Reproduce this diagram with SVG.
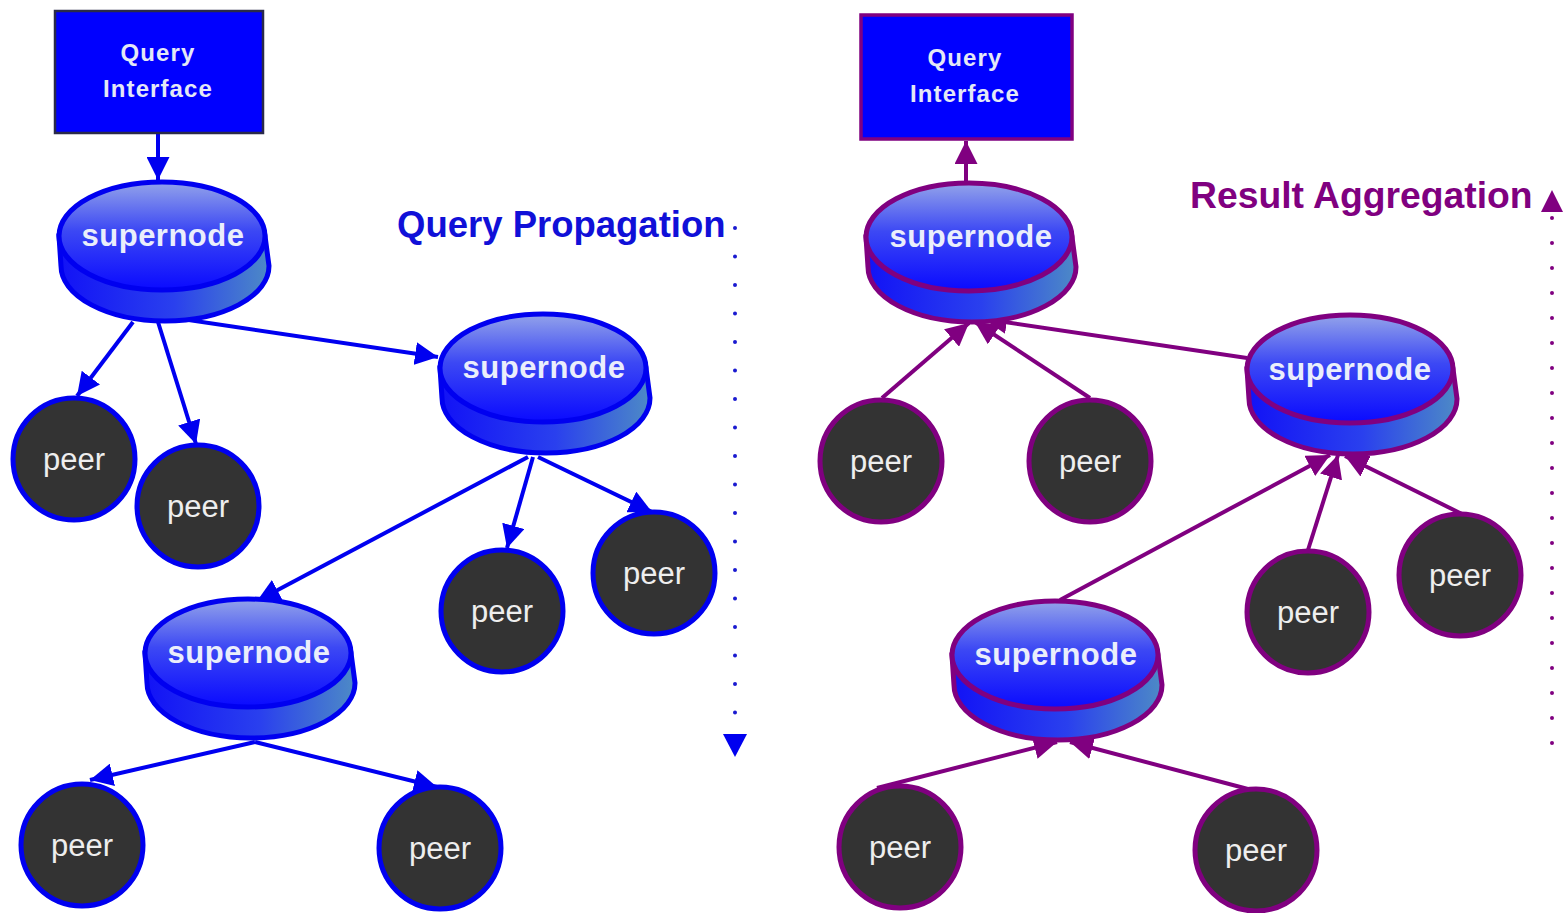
<svg xmlns="http://www.w3.org/2000/svg" width="1564" height="913" viewBox="0 0 1564 913">
  <style>
    .qi-text { font-family: "Liberation Sans", Arial, sans-serif; font-weight: bold; font-size: 24px; letter-spacing: 1.1px; fill: #e4e8f6; text-anchor: middle; }
    .sn-text { font-family: "Liberation Sans", Arial, sans-serif; font-weight: bold; font-size: 31px; letter-spacing: 0.5px; fill: #eaeefb; text-anchor: middle; }
    .peer-text { font-family: "Liberation Sans", Arial, sans-serif; font-size: 31px; fill: #eeeeee; text-anchor: middle; }
    .title { font-family: "Liberation Sans", Arial, sans-serif; font-weight: bold; font-size: 36.5px; }
    .sn-top { fill: url(#topFace); }
    .sn-side { fill: url(#sideFace); }
    .blue .sn-top, .blue .sn-side, .blue circle { stroke: #0000f0; stroke-width: 5; }
    .purple .sn-top, .purple .sn-side, .purple circle { stroke: #800080; stroke-width: 5; }
    circle.peer { fill: #333333; }
    .edge-b { stroke: #0000f0; stroke-width: 4; fill: none; marker-end: url(#arrowB); }
    .edge-p { stroke: #800080; stroke-width: 4; fill: none; marker-end: url(#arrowP); }
  </style>
  <defs>
    <linearGradient id="topFace" x1="0" y1="0" x2="0" y2="1">
      <stop offset="0" stop-color="#93a3ea"/>
      <stop offset="0.45" stop-color="#3c48f4"/>
      <stop offset="1" stop-color="#0a0aff"/>
    </linearGradient>
    <linearGradient id="sideFace" x1="0" y1="0" x2="1" y2="0">
      <stop offset="0" stop-color="#1212f6"/>
      <stop offset="0.55" stop-color="#2a40ee"/>
      <stop offset="1" stop-color="#4d8ac6"/>
    </linearGradient>
    <marker id="arrowB" viewBox="0 0 10 10" refX="10" refY="5" markerWidth="23" markerHeight="23" markerUnits="userSpaceOnUse" orient="auto">
      <path d="M0,0 L10,5 L0,10 Z" fill="#0000f0"/>
    </marker>
    <marker id="arrowP" viewBox="0 0 10 10" refX="10" refY="5" markerWidth="23" markerHeight="23" markerUnits="userSpaceOnUse" orient="auto">
      <path d="M0,0 L10,5 L0,10 Z" fill="#800080"/>
    </marker>
  </defs>

  <rect width="1564" height="913" fill="#ffffff"/>

  <!-- connectors -->
  <g id="connectors">
    <!-- query propagation (left) -->
    <line class="edge-b" x1="158" y1="133" x2="158" y2="180"/>
    <line class="edge-b" x1="133" y1="322" x2="77" y2="396"/>
    <line class="edge-b" x1="158" y1="322" x2="196" y2="444"/>
    <line class="edge-b" x1="175" y1="318" x2="438" y2="357"/>
    <line class="edge-b" x1="528" y1="457" x2="257" y2="601"/>
    <line class="edge-b" x1="533" y1="457" x2="507" y2="548"/>
    <line class="edge-b" x1="538" y1="457" x2="652" y2="512"/>
    <line class="edge-b" x1="255" y1="742" x2="90" y2="780"/>
    <line class="edge-b" x1="255" y1="742" x2="437" y2="787"/>
    <!-- result aggregation (right) -->
    <line class="edge-p" x1="966" y1="181" x2="966" y2="141"/>
    <line class="edge-p" x1="882" y1="398" x2="969" y2="323"/>
    <line class="edge-p" x1="1090" y1="398" x2="975" y2="322"/>
    <line class="edge-p" x1="1247" y1="358" x2="984" y2="319"/>
    <line class="edge-p" x1="1060" y1="600" x2="1330" y2="455"/>
    <line class="edge-p" x1="1308" y1="550" x2="1338" y2="455"/>
    <line class="edge-p" x1="1462" y1="514" x2="1345" y2="456"/>
    <line class="edge-p" x1="877" y1="788" x2="1057" y2="742"/>
    <line class="edge-p" x1="1248" y1="789" x2="1070" y2="742"/>
  </g>

  <!-- phase labels with dotted direction indicators -->
  <g id="label-propagation">
    <text class="title" x="397" y="237" fill="#1010d8">Query Propagation</text>
    <line x1="735" y1="228" x2="735" y2="715" stroke="#1a1ad0" stroke-width="4" stroke-linecap="round" stroke-dasharray="0 28.5"/>
    <path d="M723,734 L747,734 L735,757 Z" fill="#0000f0"/>
  </g>
  <g id="label-aggregation">
    <text class="title" x="1190" y="208" fill="#800080" style="font-size:37.3px">Result Aggregation</text>
    <path d="M1552,190 L1563,212 L1541,212 Z" fill="#800080"/>
    <line x1="1552" y1="218" x2="1552" y2="762" stroke="#800080" stroke-width="4" stroke-linecap="round" stroke-dasharray="0 25"/>
  </g>

  <!-- left tree -->
  <g id="qi-left" class="blue">
    <rect x="55" y="11" width="208" height="122" fill="#0000ff" stroke="#2a2a4a" stroke-width="2.5"/>
    <text class="qi-text" x="158" y="61">Query</text>
    <text class="qi-text" x="158" y="97">Interface</text>
  </g>

  <g id="sn-left-1" class="blue" transform="translate(57,180)">
    <path class="sn-side" d="M2,56 L4,86 A104,55 0 0 0 212,86 L208,56 Z"/>
    <ellipse class="sn-top" cx="105" cy="56" rx="103" ry="54"/>
    <text class="sn-text" x="106" y="66">supernode</text>
  </g>
  <g id="sn-left-2" class="blue" transform="translate(438,312)">
    <path class="sn-side" d="M2,56 L4,86 A104,55 0 0 0 212,86 L208,56 Z"/>
    <ellipse class="sn-top" cx="105" cy="56" rx="103" ry="54"/>
    <text class="sn-text" x="106" y="66">supernode</text>
  </g>
  <g id="sn-left-3" class="blue" transform="translate(143,597)">
    <path class="sn-side" d="M2,56 L4,86 A104,55 0 0 0 212,86 L208,56 Z"/>
    <ellipse class="sn-top" cx="105" cy="56" rx="103" ry="54"/>
    <text class="sn-text" x="106" y="66">supernode</text>
  </g>

  <g id="peer-left-1" class="blue"><circle class="peer" cx="74" cy="459" r="61"/><text class="peer-text" x="74" y="470">peer</text></g>
  <g id="peer-left-2" class="blue"><circle class="peer" cx="198" cy="506" r="61"/><text class="peer-text" x="198" y="517">peer</text></g>
  <g id="peer-left-3" class="blue"><circle class="peer" cx="502" cy="611" r="61"/><text class="peer-text" x="502" y="622">peer</text></g>
  <g id="peer-left-4" class="blue"><circle class="peer" cx="654" cy="573" r="61"/><text class="peer-text" x="654" y="584">peer</text></g>
  <g id="peer-left-5" class="blue"><circle class="peer" cx="82" cy="845" r="61"/><text class="peer-text" x="82" y="856">peer</text></g>
  <g id="peer-left-6" class="blue"><circle class="peer" cx="440" cy="848" r="61"/><text class="peer-text" x="440" y="859">peer</text></g>

  <!-- right tree -->
  <g id="qi-right" class="purple">
    <rect x="861" y="15" width="211" height="124" fill="#0000ff" stroke="#800080" stroke-width="3.5"/>
    <text class="qi-text" x="965" y="66">Query</text>
    <text class="qi-text" x="965" y="102">Interface</text>
  </g>

  <g id="sn-right-1" class="purple" transform="translate(864,181)">
    <path class="sn-side" d="M2,56 L4,86 A104,55 0 0 0 212,86 L208,56 Z"/>
    <ellipse class="sn-top" cx="105" cy="56" rx="103" ry="54"/>
    <text class="sn-text" x="107" y="66">supernode</text>
  </g>
  <g id="sn-right-2" class="purple" transform="translate(1245,313)">
    <path class="sn-side" d="M2,56 L4,86 A104,55 0 0 0 212,86 L208,56 Z"/>
    <ellipse class="sn-top" cx="105" cy="56" rx="103" ry="54"/>
    <text class="sn-text" x="105" y="67">supernode</text>
  </g>
  <g id="sn-right-3" class="purple" transform="translate(950,599)">
    <path class="sn-side" d="M2,56 L4,86 A104,55 0 0 0 212,86 L208,56 Z"/>
    <ellipse class="sn-top" cx="105" cy="56" rx="103" ry="54"/>
    <text class="sn-text" x="106" y="66">supernode</text>
  </g>

  <g id="peer-right-1" class="purple"><circle class="peer" cx="881" cy="461" r="61"/><text class="peer-text" x="881" y="472">peer</text></g>
  <g id="peer-right-2" class="purple"><circle class="peer" cx="1090" cy="461" r="61"/><text class="peer-text" x="1090" y="472">peer</text></g>
  <g id="peer-right-3" class="purple"><circle class="peer" cx="1308" cy="612" r="61"/><text class="peer-text" x="1308" y="623">peer</text></g>
  <g id="peer-right-4" class="purple"><circle class="peer" cx="1460" cy="575" r="61"/><text class="peer-text" x="1460" y="586">peer</text></g>
  <g id="peer-right-5" class="purple"><circle class="peer" cx="900" cy="847" r="61"/><text class="peer-text" x="900" y="858">peer</text></g>
  <g id="peer-right-6" class="purple"><circle class="peer" cx="1256" cy="850" r="61"/><text class="peer-text" x="1256" y="861">peer</text></g>
</svg>
